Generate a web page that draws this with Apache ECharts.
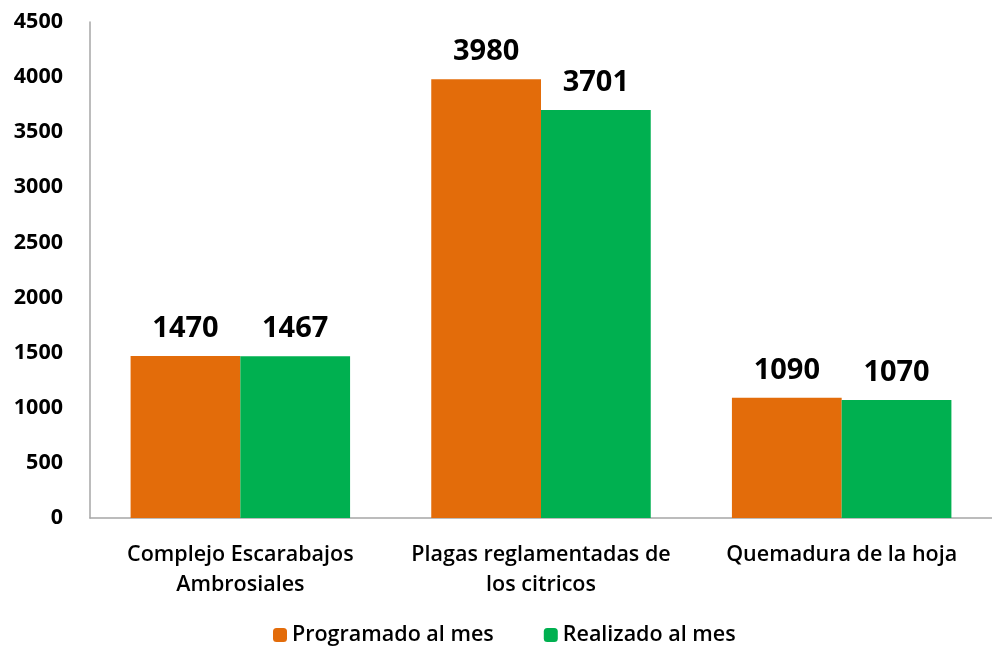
<!DOCTYPE html>
<html><head><meta charset="utf-8">
<script src="https://cdn.jsdelivr.net/npm/echarts@6/dist/echarts.min.js"></script>
<style>html,body{margin:0;padding:0;background:#fff}#c{width:992px;height:646px}</style>
</head><body><div id="c"></div>
<script>
const categories = ["Complejo Escarabajos\nAmbrosiales", "Plagas reglamentadas de\nlos citricos", "Quemadura de la hoja"];
const programado = [1470, 3980, 1090];
const realizado = [1467, 3701, 1070];
const seriesNames = ["Programado al mes", "Realizado al mes"];
const FONT = "Open Sans";
const chart = echarts.init(document.getElementById('c'));
chart.setOption({
  animation: false,
  grid: {left: 90, width: 907, top: 22, bottom: 128},
  legend: {
    left: 268, top: 619, itemWidth: 14, itemHeight: 14, itemGap: 50, itemTextGap: 6,
    textStyle: {fontFamily: FONT, fontSize: 21.5, color: '#000', fontWeight: 600},
    data: seriesNames
  },
  xAxis: {
    type: 'category', data: categories,
    axisLine: {lineStyle: {color: '#A6A6A6', width: 1.5}},
    axisTick: {show: false},
    axisLabel: {fontFamily: FONT, fontSize: 21.5, fontWeight: 600, color: '#000', margin: 22, lineHeight: 30, interval: 0}
  },
  yAxis: {
    type: 'value', min: 0, max: 4500, interval: 500,
    axisLine: {show: true, lineStyle: {color: '#A6A6A6', width: 1.5}},
    axisTick: {show: false},
    splitLine: {show: false},
    axisLabel: {fontFamily: FONT, fontSize: 21.5, fontWeight: 'bold', color: '#000', margin: 27, formatter: v => String(v)}
  },
  series: [
    {name: seriesNames[0], type: 'bar', data: programado, barGap: '0%', barCategoryGap: '27%',
     itemStyle: {color: '#E36C0A'},
     label: {show: true, position: 'top', distance: 13, fontFamily: FONT, fontSize: 29, fontWeight: 'bold', color: '#000'}},
    {name: seriesNames[1], type: 'bar', data: realizado, barGap: '0%', barCategoryGap: '27%',
     itemStyle: {color: '#00B050'},
     label: {show: true, position: 'top', distance: 13, fontFamily: FONT, fontSize: 29, fontWeight: 'bold', color: '#000'}}
  ]
});
</script></body></html>
